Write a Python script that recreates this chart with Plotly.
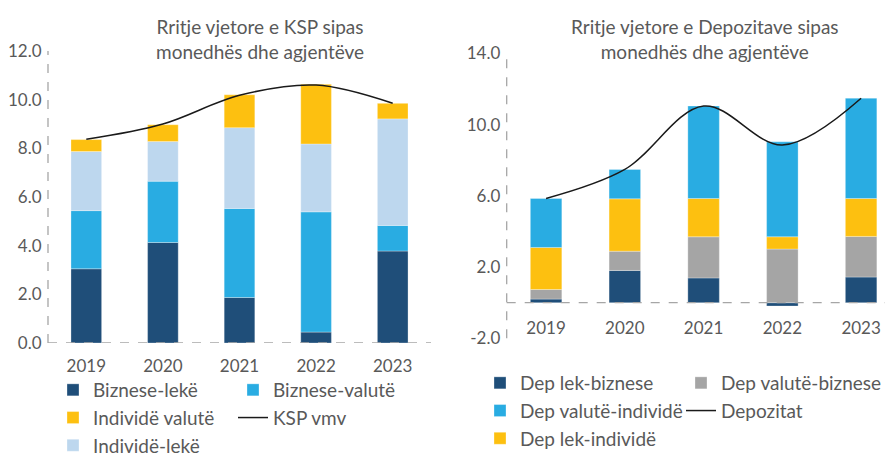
import plotly.graph_objects as go

years = ["2019", "2020", "2021", "2022", "2023"]

# Left chart: KSP growth by currency and agent
biz_lek = [3.05, 4.13, 1.87, 0.45, 3.78]
biz_val = [2.39, 2.52, 3.66, 4.94, 1.05]
ind_lek = [2.43, 1.63, 3.32, 2.79, 4.38]
ind_val = [0.49, 0.69, 1.35, 2.45, 0.64]
ksp_vmv = [8.37, 9.00, 10.18, 10.60, 9.85]

# Right chart: deposits growth by currency and agent
dep_lek_biz = [0.20, 1.81, 1.39, -0.19, 1.44]
dep_val_biz = [0.54, 1.08, 2.31, 3.01, 2.28]
dep_lek_ind = [2.36, 2.94, 2.15, 0.69, 2.13]
dep_val_ind = [2.75, 1.65, 5.19, 5.33, 5.63]
depozitat = [5.85, 7.48, 11.04, 8.85, 11.48]

left_ticks = [0, 2, 4, 6, 8, 10, 12]
right_ticks = [-2, 2, 6, 10, 14]

C_DARK = "#1f4e79"
C_BLUE = "#29ace2"
C_YEL = "#fdc010"
C_PALE = "#bdd7ee"
C_GREY = "#a5a5a5"
TXT = "#595959"
FONT = "Lato"

# page body has an 8px margin, so the figure is drawn offset by 8px
OFF = 8
W, H = 893 - OFF, 457 - OFF
def px(x):
    return (x - OFF) / W
def py(y):
    return 1 - (y - OFF) / H

fig = go.Figure()
bw = 0.4
mline = dict(color="rgba(255,255,255,0.6)", width=0.5)
linestyle = dict(color="#1a1a1a", width=1.5, shape="spline", smoothing=1.0)

# Left chart (legend = left column, legend2 = right column)
fig.add_trace(go.Bar(x=years, y=biz_lek, name="Biznese-lekë", marker=dict(color=C_DARK, line=mline),
                     width=bw, xaxis="x", yaxis="y", legend="legend", legendrank=1))
fig.add_trace(go.Bar(x=years, y=biz_val, name="Biznese-valutë", marker=dict(color=C_BLUE, line=mline),
                     width=bw, xaxis="x", yaxis="y", legend="legend2", legendrank=1))
fig.add_trace(go.Bar(x=years, y=ind_lek, name="Individë-lekë", marker=dict(color=C_PALE, line=mline),
                     width=bw, xaxis="x", yaxis="y", legend="legend", legendrank=3))
fig.add_trace(go.Bar(x=years, y=ind_val, name="Individë valutë", marker=dict(color=C_YEL, line=mline),
                     width=bw, xaxis="x", yaxis="y", legend="legend", legendrank=2))
fig.add_trace(go.Scatter(x=years, y=ksp_vmv, name="KSP vmv", mode="lines", line=linestyle,
                         xaxis="x", yaxis="y", legend="legend2", legendrank=2))

# Right chart (legend3 = left column, legend4 = right column)
fig.add_trace(go.Bar(x=years, y=dep_lek_biz, name="Dep lek-biznese", marker=dict(color=C_DARK, line=mline),
                     width=bw, xaxis="x2", yaxis="y2", legend="legend3", legendrank=1))
fig.add_trace(go.Bar(x=years, y=dep_val_biz, name="Dep valutë-biznese", marker=dict(color=C_GREY, line=mline),
                     width=bw, xaxis="x2", yaxis="y2", legend="legend4", legendrank=1))
fig.add_trace(go.Bar(x=years, y=dep_lek_ind, name="Dep lek-individë", marker=dict(color=C_YEL, line=mline),
                     width=bw, xaxis="x2", yaxis="y2", legend="legend3", legendrank=3))
fig.add_trace(go.Bar(x=years, y=dep_val_ind, name="Dep valutë-individë", marker=dict(color=C_BLUE, line=mline),
                     width=bw, xaxis="x2", yaxis="y2", legend="legend3", legendrank=2))
fig.add_trace(go.Scatter(x=years, y=depozitat, name="Depozitat", mode="lines", line=linestyle,
                         xaxis="x2", yaxis="y2", legend="legend4", legendrank=2))

ly_top, ly_bot = py(51), py(343)
ry_top, ry_bot = py(53.3), py(338.3)
r_zero = ry_bot + (0 - (-2)) / 16 * (ry_top - ry_bot)

tickfont = dict(family=FONT, size=17, color=TXT)
legfont = dict(family=FONT, size=19, color=TXT)

def leg(x, y):
    return dict(orientation="v", x=px(x), y=py(y), xanchor="left", yanchor="top",
                traceorder="normal", font=legfont, bgcolor="rgba(0,0,0,0)",
                tracegroupgap=0)

fig.update_layout(
    width=W, height=H,
    margin=dict(l=0, r=0, t=0, b=0, autoexpand=False),
    paper_bgcolor="white", plot_bgcolor="white",
    barmode="relative",
    font=dict(family=FONT, color=TXT),
    xaxis=dict(domain=[px(48), px(431)], range=[-0.5, 4.5], type="category",
               showgrid=False, zeroline=False, showline=False,
               ticks="outside", ticklen=8, tickcolor="rgba(0,0,0,0)", tickfont=tickfont,
               anchor="y"),
    yaxis=dict(domain=[ly_bot, ly_top], range=[0, 12], tickvals=left_ticks,
               ticktext=[f"{v:.1f}" for v in left_ticks],
               showgrid=False, zeroline=False, showline=False, tickfont=tickfont,
               ticks="outside", ticklen=2, tickcolor="rgba(0,0,0,0)", anchor="x"),
    xaxis2=dict(domain=[px(506.7), 1.0], range=[-0.5, 4.405], type="category",
                showgrid=False, zeroline=False, showline=False,
                ticks="outside", ticklen=10, tickcolor="rgba(0,0,0,0)", tickfont=tickfont,
                anchor="free", position=r_zero),
    yaxis2=dict(domain=[ry_bot, ry_top], range=[-2, 14], tickvals=right_ticks,
                ticktext=[f"{v:.1f}" for v in right_ticks],
                showgrid=False, zeroline=False, showline=False, tickfont=tickfont,
                ticks="outside", ticklen=2, tickcolor="rgba(0,0,0,0)", anchor="x2"),
    legend=leg(53, 371),
    legend2=leg(233, 371),
    legend3=leg(480, 364),
    legend4=leg(681, 364),
    showlegend=True,
)

dash = dict(color="#a6a6a6", width=1.3, dash="dash")
fig.add_shape(type="line", xref="x domain", yref="y", x0=0, x1=1, y0=0, y1=0, line=dash)
fig.add_shape(type="line", xref="x domain", yref="y domain", x0=0, x1=0, y0=0, y1=1, line=dash)
fig.add_shape(type="line", xref="x2 domain", yref="y2", x0=0, x1=1, y0=0, y1=0, line=dash)
fig.add_shape(type="line", xref="x2 domain", yref="y2 domain", x0=0, x1=0, y0=0, y1=1, line=dash)

titlefont = dict(family=FONT, size=19, color=TXT)
fig.add_annotation(text="Rritje vjetore e KSP sipas<br>monedhës dhe agjentëve",
                   xref="paper", yref="paper", x=px(260), y=py(39), xanchor="center", yanchor="middle",
                   showarrow=False, font=titlefont, align="center")
fig.add_annotation(text="Rritje vjetore e Depozitave sipas<br>monedhës dhe agjentëve",
                   xref="paper", yref="paper", x=px(705), y=py(39), xanchor="center", yanchor="middle",
                   showarrow=False, font=titlefont, align="center")

fig.write_html("out.html")
